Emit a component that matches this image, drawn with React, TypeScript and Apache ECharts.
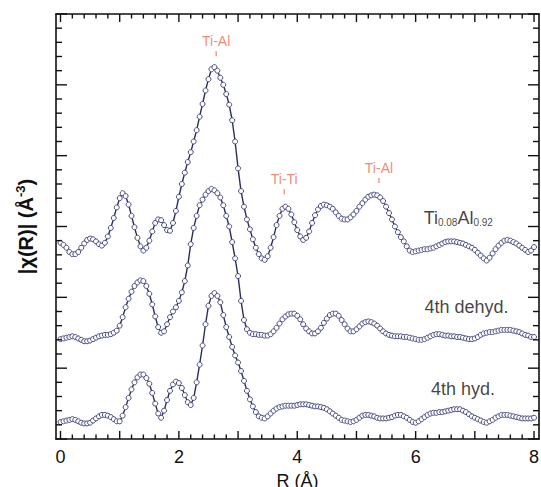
import React, { useEffect, useRef } from "react";
import * as echarts from "echarts";

// R grid (Å), sampled every 0.05 Å from 0 to 8
const rValues: number[] = Array.from({ length: 161 }, (_, i) => Math.round(i * 5) / 100);

// |χ(R)| curves (vertically offset)
const tiAl: number[] = [
  2.77, 2.74, 2.70, 2.64, 2.61, 2.61, 2.64, 2.70, 2.76, 2.81,
  2.83, 2.82, 2.79, 2.75, 2.73, 2.77, 2.86, 2.98, 3.12, 3.27,
  3.40, 3.47, 3.43, 3.31, 3.15, 2.99, 2.84, 2.72, 2.66, 2.70,
  2.80, 2.93, 3.05, 3.10, 3.09, 3.02, 2.95, 2.94, 3.05, 3.22,
  3.42, 3.60, 3.76, 3.91, 4.05, 4.20, 4.36, 4.55, 4.73, 4.92,
  5.08, 5.22, 5.25, 5.20, 5.10, 5.00, 4.87, 4.72, 4.50, 4.20,
  3.82, 3.50, 3.28, 3.10, 2.96, 2.82, 2.70, 2.61, 2.55, 2.53,
  2.58, 2.70, 2.85, 3.02, 3.15, 3.25, 3.28, 3.25, 3.17, 3.06,
  2.95, 2.86, 2.81, 2.84, 2.93, 3.05, 3.16, 3.24, 3.29, 3.31,
  3.30, 3.28, 3.25, 3.20, 3.15, 3.11, 3.10, 3.10, 3.13, 3.17,
  3.22, 3.28, 3.33, 3.38, 3.42, 3.44, 3.45, 3.44, 3.41, 3.36,
  3.28, 3.19, 3.10, 3.00, 2.92, 2.85, 2.79, 2.72, 2.66, 2.64,
  2.65, 2.66, 2.67, 2.68, 2.68, 2.69, 2.70, 2.72, 2.74, 2.76,
  2.78, 2.79, 2.79, 2.79, 2.78, 2.77, 2.76, 2.74, 2.72, 2.70,
  2.67, 2.63, 2.59, 2.55, 2.52, 2.56, 2.62, 2.68, 2.73, 2.77,
  2.80, 2.81, 2.80, 2.78, 2.76, 2.73, 2.70, 2.67, 2.64, 2.66,
  2.71,
];
const dehyd: number[] = [
  1.41, 1.42, 1.43, 1.44, 1.45, 1.44, 1.42, 1.40, 1.38, 1.38,
  1.39, 1.41, 1.43, 1.45, 1.46, 1.47, 1.47, 1.48, 1.50, 1.53,
  1.60, 1.72, 1.86, 1.98, 2.08, 2.16, 2.21, 2.24, 2.23, 2.16,
  2.05, 1.90, 1.73, 1.58, 1.50, 1.52, 1.62, 1.72, 1.80, 1.86,
  1.95, 2.07, 2.23, 2.45, 2.75, 2.98, 3.15, 3.30, 3.38, 3.45,
  3.50, 3.53, 3.51, 3.47, 3.41, 3.30, 3.15, 3.00, 2.78, 2.55,
  2.30, 1.95, 1.68, 1.55, 1.50, 1.48, 1.48, 1.47, 1.47, 1.46,
  1.46, 1.48, 1.52, 1.57, 1.63, 1.69, 1.73, 1.76, 1.77, 1.77,
  1.74, 1.69, 1.62, 1.56, 1.52, 1.49, 1.49, 1.52, 1.57, 1.64,
  1.70, 1.75, 1.77, 1.77, 1.74, 1.68, 1.62, 1.56, 1.52, 1.52,
  1.55, 1.59, 1.63, 1.65, 1.66, 1.65, 1.63, 1.60, 1.56, 1.52,
  1.49, 1.47, 1.46, 1.45, 1.45, 1.45, 1.44, 1.44, 1.43, 1.42,
  1.41, 1.40, 1.40, 1.41, 1.43, 1.45, 1.47, 1.48, 1.48, 1.47,
  1.46, 1.46, 1.45, 1.45, 1.44, 1.44, 1.43, 1.42, 1.41, 1.41,
  1.42, 1.44, 1.47, 1.49, 1.50, 1.51, 1.51, 1.52, 1.53, 1.54,
  1.54, 1.54, 1.54, 1.53, 1.52, 1.51, 1.49, 1.47, 1.46, 1.44,
  1.44,
];
const hyd: number[] = [
  0.24, 0.25, 0.26, 0.27, 0.28, 0.27, 0.25, 0.23, 0.22, 0.22,
  0.23, 0.26, 0.29, 0.32, 0.34, 0.34, 0.33, 0.31, 0.28, 0.25,
  0.25, 0.33, 0.45, 0.58, 0.70, 0.80, 0.87, 0.91, 0.91, 0.86,
  0.78, 0.65, 0.50, 0.36, 0.30, 0.40, 0.55, 0.68, 0.77, 0.81,
  0.79, 0.72, 0.62, 0.52, 0.48, 0.58, 0.80, 1.05, 1.32, 1.62,
  1.88, 2.02, 2.06, 2.02, 1.93, 1.75, 1.58, 1.44, 1.30, 1.18,
  1.08, 0.96, 0.82, 0.68, 0.56, 0.46, 0.38, 0.32, 0.30, 0.29,
  0.32, 0.36, 0.40, 0.43, 0.45, 0.46, 0.47, 0.47, 0.47, 0.47,
  0.48, 0.49, 0.49, 0.49, 0.48, 0.47, 0.46, 0.46, 0.45, 0.44,
  0.42, 0.39, 0.36, 0.33, 0.30, 0.27, 0.26, 0.25, 0.24, 0.25,
  0.27, 0.30, 0.33, 0.34, 0.34, 0.33, 0.32, 0.30, 0.29, 0.29,
  0.29, 0.30, 0.31, 0.33, 0.34, 0.34, 0.32, 0.30, 0.27, 0.24,
  0.23, 0.25, 0.28, 0.31, 0.34, 0.36, 0.37, 0.37, 0.38, 0.38,
  0.39, 0.40, 0.41, 0.42, 0.42, 0.42, 0.40, 0.38, 0.35, 0.32,
  0.30, 0.28, 0.26, 0.24, 0.23, 0.25, 0.27, 0.30, 0.32, 0.34,
  0.34, 0.34, 0.33, 0.32, 0.31, 0.30, 0.29, 0.29, 0.29, 0.29,
  0.30,
];

// Axis ticks and labels
const xTickLabels: number[] = [0, 2, 4, 6, 8];
const xMajorTicks: number[] = [0, 1, 2, 3, 4, 5, 6, 7, 8];
const xMinorTicks: number[] = Array.from({ length: 41 }, (_, i) => Math.round(i * 2) / 10).filter((v) => v % 1 !== 0);
const yMajorTicks: number[] = [0, 1, 2, 3, 4, 5, 6];
const yMinorTicks: number[] = Array.from({ length: 31 }, (_, i) => Math.round(i * 2) / 10).filter((v) => v % 1 !== 0);

// Bond annotations: label, R position, height of the marker tick
const bondNames: string[] = ["Ti-Al", "Ti-Ti", "Ti-Al"];
const bondR: number[] = [2.63, 3.78, 5.38];
const bondY: number[] = [5.44, 3.49, 3.65];

// Curve labels
const curveLabels: string[] = ["Ti{sub|0.08}Al{sub|0.92}", "4th dehyd.", "4th hyd."];
const curveLabelR: number[] = [6.72, 6.86, 6.8];
const curveLabelY: number[] = [3.12, 1.87, 0.70];

const FONT = "'Liberation Sans', Arial, Helvetica, sans-serif";
const INK = "#111111";
const RED = "#ef6b52";
const X_MIN = -0.076;
const X_MAX = 8.084;
const Y_MIN = 0;
const Y_MAX = 6;

// tick kinds: 0 = x major, 1 = x minor, 2 = y major, 3 = y minor
const tickData: number[][] = [
  ...xMajorTicks.map((v) => [v, 0]),
  ...xMinorTicks.map((v) => [v, 1]),
  ...yMajorTicks.map((v) => [v, 2]),
  ...yMinorTicks.map((v) => [v, 3]),
];

export default function App() {
  const ref = useRef<HTMLDivElement>(null);
  useEffect(() => {
    if (!ref.current) return;
    const chart = echarts.init(ref.current, undefined, { renderer: "svg" });
    const axLine = () => ({ show: true, onZero: false, lineStyle: { color: INK, width: 1.6 } });
    const curveSeries = (data: number[]) => ({
      type: "line",
      data: rValues.map((r, i) => [r, data[i]]),
      symbol: "circle",
      symbolSize: 5,
      showSymbol: true,
      silent: true,
      lineStyle: { color: "#2b2d5c", width: 1.4 },
      itemStyle: { color: "#ffffff", borderColor: "#474b80", borderWidth: 1 },
    });
    chart.setOption({
      animation: false,
      grid: { left: 56, right: 2, top: 14, bottom: 48, outerBoundsMode: "none", containLabel: false },
      xAxis: [
        {
          type: "value", min: X_MIN, max: X_MAX, position: "bottom",
          axisLine: axLine(), axisTick: { show: false },
          axisLabel: { customValues: xTickLabels.slice(), fontSize: 18, color: INK, margin: 9, fontFamily: FONT },
          splitLine: { show: false },
          name: "R (Å)", nameLocation: "middle", nameGap: 33,
          nameTextStyle: { fontSize: 18, color: INK, fontFamily: FONT },
        },
        {
          type: "value", min: X_MIN, max: X_MAX, position: "top",
          axisLine: axLine(), axisTick: { show: false },
          axisLabel: { show: false }, splitLine: { show: false },
        },
      ],
      yAxis: [
        {
          type: "value", min: Y_MIN, max: Y_MAX, interval: 1, position: "left",
          axisLine: axLine(), axisTick: { show: false },
          axisLabel: { show: false }, splitLine: { show: false },
          name: "|χ(R)| (Å{sup|-3})", nameLocation: "middle", nameGap: 19,
          nameTextStyle: {
            fontSize: 20, fontWeight: "bold", color: INK, fontFamily: FONT,
            rich: { sup: { fontSize: 13, fontWeight: "bold", color: INK, fontFamily: FONT, padding: [0, 0, 10, 0] } },
          },
        },
        {
          type: "value", min: Y_MIN, max: Y_MAX, interval: 1, position: "right",
          axisLine: axLine(), axisTick: { show: false },
          axisLabel: { show: false }, splitLine: { show: false },
        },
      ],
      series: [
        curveSeries(tiAl),
        curveSeries(dehyd),
        curveSeries(hyd),
        {
          // inward ticks on all four sides of the frame, placed through the axes' scales
          type: "custom",
          silent: true,
          clip: false,
          z: 6,
          data: tickData,
          renderItem: (_params: any, api: any) => {
            const v = api.value(0);
            const kind = api.value(1);
            const bl = api.coord([X_MIN, Y_MIN]);
            const tr = api.coord([X_MAX, Y_MAX]);
            const style = { stroke: INK, lineWidth: 1.4 };
            if (kind <= 1) {
              const x = api.coord([v, Y_MIN])[0];
              const len = kind === 0 ? 8 : 4.5;
              return {
                type: "group",
                children: [
                  { type: "line", shape: { x1: x, y1: bl[1], x2: x, y2: bl[1] - len }, style },
                  { type: "line", shape: { x1: x, y1: tr[1], x2: x, y2: tr[1] + len }, style },
                ],
              };
            }
            const y = api.coord([X_MIN, v])[1];
            const len = kind === 2 ? 11 : 6;
            return {
              type: "group",
              children: [
                { type: "line", shape: { x1: bl[0], y1: y, x2: bl[0] + len, y2: y }, style },
                { type: "line", shape: { x1: tr[0], y1: y, x2: tr[0] - len, y2: y }, style },
              ],
            };
          },
        },
        {
          type: "scatter",
          silent: true,
          data: bondNames.map((n, i) => ({ name: n, value: [bondR[i], bondY[i]] })),
          symbol: "rect",
          symbolSize: [1.3, 5],
          itemStyle: { color: RED },
          label: {
            show: true, position: "top", distance: 3, formatter: "{b}",
            color: RED, fontSize: 14, fontFamily: FONT,
          },
        },
        {
          type: "scatter",
          silent: true,
          data: curveLabels.map((n, i) => ({ name: n, value: [curveLabelR[i], curveLabelY[i]] })),
          symbolSize: 0,
          label: {
            show: true, position: "inside", formatter: "{b}",
            color: INK, fontSize: 18, fontFamily: FONT,
            rich: { sub: { fontSize: 10, color: INK, fontFamily: FONT, padding: [8, 0, 0, 0] } },
          },
        },
      ],
    });
    return () => chart.dispose();
  }, []);
  return (
    <div
      ref={ref}
      style={{ position: "fixed", left: 0, top: 0, width: 541, height: 487, background: "#fff" }}
    />
  );
}
